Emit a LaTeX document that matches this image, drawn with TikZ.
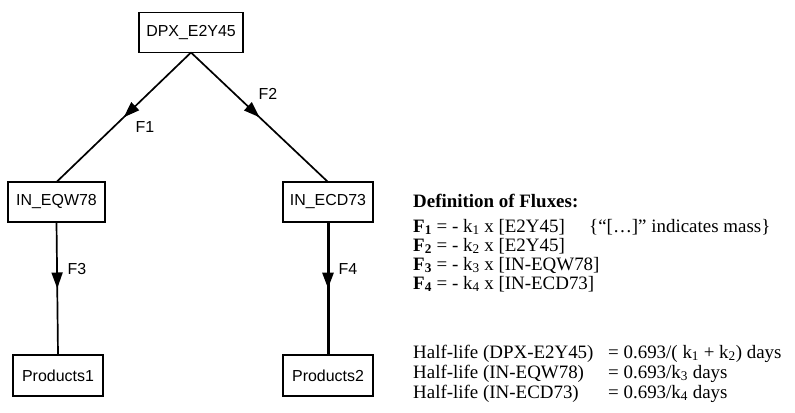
\documentclass[tikz,border=0pt]{standalone}
\usepackage{fontspec}
\setmainfont{Liberation Serif}
\newfontfamily\arialfont{Liberation Sans}
\usetikzlibrary{arrows.meta,decorations.markings}
\begin{document}
\begin{tikzpicture}[x=1bp,y=-1bp,
  box/.style={draw, line width=1.8bp, outer sep=0pt, inner sep=0pt,
    font=\arialfont\fontsize{16}{19}\selectfont, minimum height=40bp},
  lbl/.style={font=\arialfont\fontsize{16}{19}\selectfont, inner sep=0pt},
  flow/.style={line width=1.7bp, postaction={decorate},
    decoration={markings, mark=at position 0.5 with {\arrow{Triangle[length=16bp,width=11bp]}}}},
  txt/.style={anchor=base west, inner sep=0pt, font=\fontsize{19}{20}\selectfont}]
\useasboundingbox (0,0) rectangle (795,412);

% boxes
\node[box, minimum width=104bp] (dpx) at (191,32.5) {DPX\_E2Y45};
\node[box, minimum width=97bp] (eqw) at (56.5,202) {IN\_EQW78};
\node[box, minimum width=90bp] (ecd) at (328,202) {IN\_ECD73};
\node[box, minimum width=90bp, minimum height=41bp] (p1) at (58,375.5) {Products1};
\node[box, minimum width=90bp, minimum height=41bp] (p2) at (328,375.5) {Products2};

% connectors
\draw[flow] (dpx.south) -- (eqw.north);
\draw[flow] (dpx.south) -- (ecd.north);
\draw[flow] (eqw.south) -- (p1.north);
\draw[flow, line width=3bp] (ecd.south) -- (p2.north);

% labels
\node[lbl] (f1) at (145,127) {F1};
\node[lbl] (f2) at (268,94) {F2};
\node[lbl] (f3) at (77,269) {F3};
\node[lbl] (f4) at (348,269) {F4};

% definitions
\node[txt] (def) at (413,207) {\textbf{Definition of Fluxes:}};
\node[txt] (e1) at (413,232) {\textbf{F\textsubscript{1}} = - k\textsubscript{1} x [E2Y45]};
\node[txt] (e1c) at (589,232) {\{“[…]” indicates mass\}};
\node[txt] (e2) at (413,251) {\textbf{F\textsubscript{2}} = - k\textsubscript{2} x [E2Y45]};
\node[txt] (e3) at (413,270) {\textbf{F\textsubscript{3}} = - k\textsubscript{3} x [IN-EQW78]};
\node[txt] (e4) at (413,289) {\textbf{F\textsubscript{4}} = - k\textsubscript{4} x [IN-ECD73]};

% half-lives
\node[txt] (h1) at (413,358) {Half-life (DPX-E2Y45)};
\node[txt] (h1v) at (608,358) {= 0.693/( k\textsubscript{1} + k\textsubscript{2}) days};
\node[txt] (h2) at (413,378) {Half-life (IN-EQW78)};
\node[txt] (h2v) at (608,378) {= 0.693/k\textsubscript{3} days};
\node[txt] (h3) at (413,398) {Half-life (IN-ECD73)};
\node[txt] (h3v) at (608,398) {= 0.693/k\textsubscript{4} days};
\end{tikzpicture}
\end{document}
